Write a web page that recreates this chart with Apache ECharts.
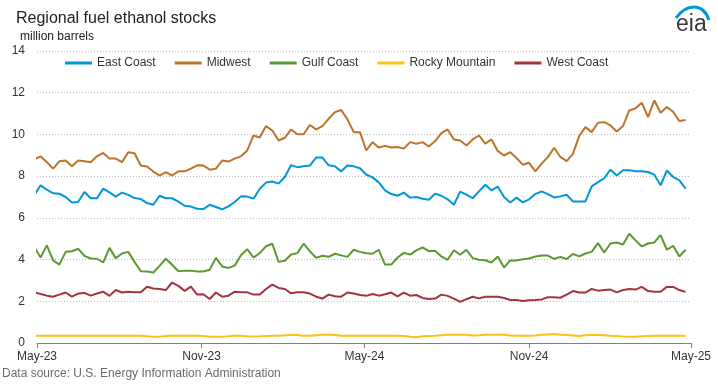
<!DOCTYPE html>
<html>
<head>
<meta charset="utf-8">
<script src="https://cdn.jsdelivr.net/npm/echarts@6/dist/echarts.min.js"></script>
<style>
html,body{margin:0;padding:0;background:#fff;}
#chart{width:718px;height:384px;}
</style>
</head>
<body>
<div id="chart"></div>
<script>
// Weekly data, first week ending 2023-04-28 (clipped at axis start)
const firstWeek = [2023, 3, 28];
const seriesNames = ['East Coast', 'Midwest', 'Gulf Coast', 'Rocky Mountain', 'West Coast'];
const tickLabels = ['May-23', 'Nov-23', 'May-24', 'Nov-24', 'May-25'];
const tickDates = [[2023, 4, 1], [2023, 10, 1], [2024, 4, 1], [2024, 10, 1], [2025, 4, 1]];

const eastCoast = [
  7.10, 7.56, 7.35, 7.18, 7.16, 7.00, 6.74, 6.76, 7.24, 6.94,
  6.94, 7.40, 7.22, 7.02, 7.21, 7.10, 6.95, 6.90, 6.71, 6.63,
  7.06, 6.94, 6.94, 6.78, 6.58, 6.54, 6.44, 6.42, 6.63, 6.52,
  6.41, 6.55, 6.76, 7.03, 7.02, 6.92, 7.40, 7.69, 7.74, 7.64,
  7.96, 8.53, 8.43, 8.47, 8.51, 8.89, 8.89, 8.52, 8.47, 8.23,
  8.51, 8.47, 8.38, 8.08, 7.94, 7.70, 7.32, 7.14, 7.06, 7.21,
  6.97, 7.00, 6.92, 6.87, 7.16, 7.06, 6.89, 6.63, 7.26, 7.11,
  6.94, 7.27, 7.59, 7.32, 7.50, 7.00, 6.74, 6.97, 6.74, 6.89,
  7.14, 7.27, 7.14, 6.98, 7.03, 7.11, 6.79, 6.79, 6.79, 7.51,
  7.71, 7.90, 8.31, 8.03, 8.28, 8.28, 8.23, 8.23, 8.20, 8.07,
  7.56, 8.27, 7.96, 7.80, 7.40
];
const midwest = [
  8.80, 8.95, 8.67, 8.36, 8.71, 8.75, 8.47, 8.75, 8.71, 8.67,
  8.95, 9.11, 8.84, 8.84, 8.67, 9.15, 9.10, 8.51, 8.46, 8.22,
  8.03, 8.19, 8.03, 8.23, 8.23, 8.36, 8.52, 8.51, 8.31, 8.36,
  8.75, 8.70, 8.84, 8.95, 9.23, 9.95, 9.85, 10.40, 10.19, 9.71,
  9.84, 10.24, 10.01, 10.01, 10.45, 10.24, 10.40, 10.75, 11.07, 11.17,
  10.72, 10.11, 10.11, 9.23, 9.63, 9.37, 9.45, 9.37, 9.40, 9.32,
  9.63, 9.55, 9.63, 9.42, 9.68, 10.06, 10.24, 9.76, 9.71, 9.47,
  9.76, 9.95, 9.56, 9.76, 9.21, 8.99, 9.15, 8.87, 8.55, 8.64,
  8.23, 8.60, 8.91, 9.36, 8.92, 8.72, 9.07, 9.92, 10.35, 10.11,
  10.56, 10.59, 10.43, 10.14, 10.40, 11.15, 11.25, 11.52, 10.83, 11.63,
  11.04, 11.31, 11.09, 10.64, 10.69
];
const gulfCoast = [
  4.60, 4.10, 4.68, 3.96, 3.76, 4.37, 4.40, 4.52, 4.18, 4.05,
  4.04, 3.86, 4.56, 4.07, 4.29, 4.37, 3.89, 3.44, 3.43, 3.38,
  3.70, 4.04, 3.75, 3.44, 3.47, 3.47, 3.43, 3.43, 3.51, 4.08,
  3.67, 3.60, 3.71, 4.21, 4.50, 4.10, 4.31, 4.64, 4.76, 3.89,
  3.94, 4.24, 4.31, 4.76, 4.40, 4.08, 4.18, 4.13, 4.28, 4.20,
  4.13, 4.47, 4.37, 4.30, 4.28, 4.47, 3.76, 3.76, 4.10, 4.32,
  4.24, 4.44, 4.58, 4.40, 4.42, 4.15, 3.99, 4.45, 4.23, 4.47,
  4.07, 3.99, 3.97, 3.86, 4.15, 3.62, 3.96, 3.96, 4.02, 4.05,
  4.15, 4.19, 4.19, 4.03, 4.13, 4.03, 4.27, 4.15, 4.29, 4.37,
  4.79, 4.34, 4.77, 4.82, 4.72, 5.24, 4.92, 4.63, 4.77, 4.82,
  5.17, 4.47, 4.66, 4.15, 4.47
];
const rockyMountain = [
  0.35, 0.35, 0.35, 0.35, 0.35, 0.35, 0.35, 0.35, 0.35, 0.35,
  0.35, 0.35, 0.35, 0.35, 0.35, 0.35, 0.35, 0.35, 0.32, 0.30,
  0.30, 0.33, 0.35, 0.35, 0.35, 0.35, 0.35, 0.33, 0.30, 0.30,
  0.30, 0.32, 0.35, 0.35, 0.32, 0.31, 0.32, 0.34, 0.35, 0.35,
  0.37, 0.40, 0.38, 0.35, 0.35, 0.37, 0.39, 0.40, 0.38, 0.35,
  0.35, 0.35, 0.35, 0.35, 0.35, 0.35, 0.35, 0.35, 0.35, 0.33,
  0.30, 0.28, 0.32, 0.34, 0.35, 0.37, 0.39, 0.40, 0.40, 0.39,
  0.36, 0.37, 0.39, 0.40, 0.40, 0.39, 0.36, 0.35, 0.35, 0.35,
  0.36, 0.39, 0.41, 0.43, 0.40, 0.38, 0.36, 0.34, 0.37, 0.38,
  0.38, 0.37, 0.35, 0.34, 0.31, 0.30, 0.30, 0.32, 0.34, 0.35,
  0.35, 0.35, 0.35, 0.35, 0.35
];
const westCoast = [
  2.43, 2.35, 2.27, 2.22, 2.32, 2.42, 2.22, 2.37, 2.40, 2.27,
  2.37, 2.46, 2.26, 2.54, 2.42, 2.46, 2.43, 2.43, 2.70, 2.61,
  2.59, 2.54, 2.90, 2.74, 2.50, 2.70, 2.32, 2.34, 2.11, 2.42,
  2.22, 2.27, 2.46, 2.43, 2.43, 2.32, 2.32, 2.59, 2.80, 2.64,
  2.59, 2.38, 2.43, 2.43, 2.37, 2.22, 2.13, 2.32, 2.24, 2.22,
  2.42, 2.37, 2.30, 2.26, 2.35, 2.27, 2.34, 2.42, 2.24, 2.42,
  2.27, 2.30, 2.16, 2.11, 2.13, 2.32, 2.26, 2.13, 1.97, 2.10,
  2.22, 2.14, 2.22, 2.22, 2.22, 2.16, 2.06, 2.06, 2.01, 2.05,
  2.06, 2.09, 2.19, 2.19, 2.17, 2.32, 2.49, 2.42, 2.42, 2.59,
  2.51, 2.54, 2.56, 2.43, 2.54, 2.59, 2.56, 2.69, 2.49, 2.46,
  2.46, 2.69, 2.69, 2.54, 2.45
];
const seriesColors = ['#0096D7', '#BD732A', '#5D9732', '#FFC20E', '#A33340'];

const DAY = 86400000;
const t0 = Date.UTC(firstWeek[0], firstWeek[1], firstWeek[2]);
const weeks = eastCoast.map((_, i) => t0 + i * 7 * DAY);
const tickValues = tickDates.map(d => Date.UTC(d[0], d[1], d[2]));
const allValues = [eastCoast, midwest, gulfCoast, rockyMountain, westCoast];

const FONT = '"Liberation Sans", Arial, sans-serif';
const chart = echarts.init(document.getElementById('chart'), null, {renderer: 'canvas'});
chart.setOption({
  animation: false,
  backgroundColor: '#ffffff',
  textStyle: {fontFamily: FONT},
  grid: {left: 37, right: 27, top: 51, bottom: 41, containLabel: false},
  legend: {
    left: 60, top: 52, padding: 5, icon: 'rect', itemWidth: 27, itemHeight: 3, itemGap: 19,
    textStyle: {fontFamily: FONT, fontSize: 12, color: '#333333'},
    data: seriesNames
  },
  xAxis: {
    type: 'value',
    min: tickValues[0],
    max: tickValues[tickValues.length - 1],
    axisLine: {show: true, lineStyle: {color: '#808080', width: 1}},
    axisTick: {show: true, length: 5, lineStyle: {color: '#808080'}, customValues: tickValues},
    axisLabel: {
      customValues: tickValues,
      fontFamily: FONT, fontSize: 12, color: '#333333', margin: 8,
      showMinLabel: true, showMaxLabel: true,
      formatter: function (v) {
        const i = tickValues.indexOf(v);
        return i >= 0 ? tickLabels[i] : '';
      }
    },
    splitLine: {show: false}
  },
  yAxis: {
    type: 'value', min: 0, max: 14, interval: 2,
    axisLine: {show: false}, axisTick: {show: false},
    axisLabel: {fontFamily: FONT, fontSize: 12, color: '#333333', margin: 12},
    splitLine: {show: true, lineStyle: {color: '#b8b8b8', type: [1, 2], width: 1}}
  },
  series: seriesNames.map((name, s) => ({
    name: name,
    type: 'line',
    symbol: 'none',
    clip: true,
    lineStyle: {width: 2, color: seriesColors[s]},
    itemStyle: {color: seriesColors[s]},
    data: weeks.map((t, i) => [t, allValues[s][i]])
  })),
  graphic: [
    {type: 'text', x: 16, y: 19, style: {text: 'Regional fuel ethanol stocks', font: '16px ' + FONT, fill: '#222222', verticalAlign: 'middle'}},
    {type: 'text', x: 20, y: 37, style: {text: 'million barrels', font: '12px ' + FONT, fill: '#222222', verticalAlign: 'middle'}},
    {type: 'text', x: 2, y: 374, style: {text: 'Data source: U.S. Energy Information Administration', font: '12px ' + FONT, fill: '#6b6b6b', verticalAlign: 'middle'}},
    {type: 'text', x: 676, y: 25, style: {text: 'eia', font: '23px ' + FONT, fill: '#3a3a3a', verticalAlign: 'middle'}},
    {type: 'bezierCurve', shape: {x1: 676, y1: 18, cpx1: 686, cpy1: 4, cpx2: 703, cpy2: 2, x2: 709, y2: 20}, style: {stroke: '#0096D7', lineWidth: 3, fill: null}}
  ]
});
</script>
</body>
</html>
